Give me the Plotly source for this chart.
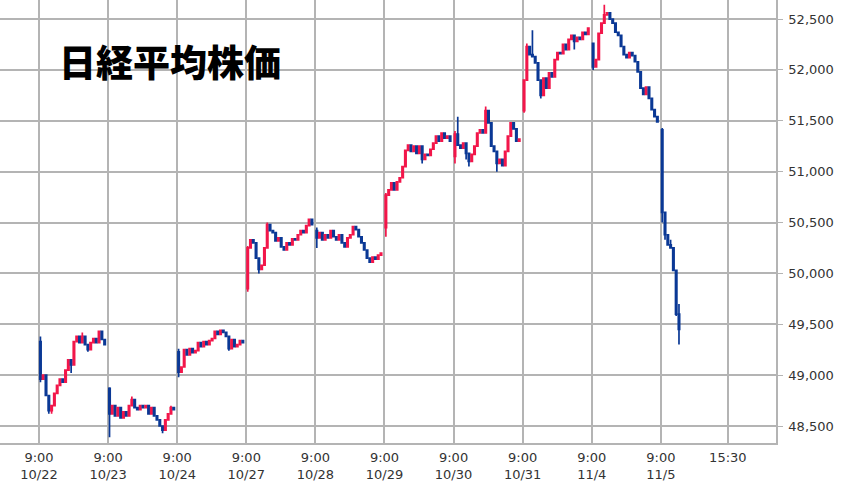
import plotly.graph_objects as go

# ---- data (approximate intraday bars) ----
days = ["10/22", "10/23", "10/24", "10/27", "10/28", "10/29", "10/30", "10/31", "11/4", "11/5"]
day_open = [49330, 48870, 49230, 49850, 50420, 50450, 51150, 51600, 52260, 51410]

close_1022 = [48960, 49000, 48800, 48650, 48700, 48820, 48900, 48960, 48930, 49050, 49150, 49100,
              49330, 49380, 49320, 49380, 49300, 49250, 49320, 49360, 49320, 49430, 49350, 49300]
close_1023 = [48620, 48700, 48600, 48680, 48580, 48640, 48600, 48700, 48760, 48680, 48660, 48700,
              48680, 48700, 48620, 48680, 48600, 48560, 48500, 48460, 48560, 48620, 48680, 48660]
close_1024 = [49030, 49080, 49250, 49200, 49260, 49220, 49240, 49320, 49280, 49330, 49300, 49340,
              49360, 49430, 49400, 49440, 49420, 49380, 49260, 49350, 49280, 49300, 49340, 49320]
close_1027 = [50250, 50330, 50300, 50150, 50040, 50080, 50250, 50480, 50420, 50400, 50320, 50350,
              50260, 50230, 50300, 50280, 50340, 50330, 50380, 50420, 50400, 50470, 50530, 50480]
close_1028 = [50350, 50400, 50330, 50380, 50350, 50420, 50360, 50330, 50380, 50300, 50260, 50350,
              50380, 50460, 50430, 50360, 50300, 50230, 50150, 50110, 50160, 50140, 50180, 50200]
close_1029 = [50770, 50820, 50890, 50820, 50900, 50940, 51050, 51210, 51260, 51200, 51250, 51180,
              51250, 51120, 51170, 51160, 51220, 51280, 51350, 51300, 51380, 51330, 51350, 51300]
close_1030 = [51370, 51260, 51230, 51280, 51180, 51100, 51170, 51250, 51380, 51410, 51380, 51600,
              51480, 51250, 51200, 51080, 51120, 51060, 51200, 51350, 51480, 51420, 51300, 51320]
close_1031 = [51900, 52230, 52150, 52130, 52070, 51900, 51750, 51920, 51820, 51970, 51930, 52100,
              52170, 52160, 52250, 52200, 52300, 52340, 52280, 52320, 52300, 52370, 52350, 52410]
close_1104 = [52030, 52100, 52360, 52460, 52540, 52560, 52500, 52460, 52370, 52340, 52230, 52150,
              52120, 52170, 52140, 52080, 51980, 51820, 51760, 51830, 51720, 51610, 51540, 51490]
close_1105 = [50600, 50380, 50280, 50250, 50030, 49600, 49450]

# notable wicks: (day index, bar index) -> price
high_wicks = {(0, 0): 49380, (0, 15): 49420, (1, 0): 48880, (1, 8): 48790, (1, 22): 48700,
              (2, 0): 49260, (3, 0): 50270, (3, 7): 50500, (4, 0): 50450, (5, 0): 50790,
              (6, 0): 51400, (6, 1): 51540, (6, 11): 51640, (7, 1): 52260, (7, 3): 52390,
              (8, 4): 52640, (9, 0): 51430, (9, 1): 50600, (9, 3): 50330, (9, 6): 49700}
low_wicks = {(0, 0): 48930, (0, 3): 48620, (0, 4): 48620, (0, 11): 49020, (0, 17): 49230,
             (1, 0): 48390, (1, 19): 48430, (2, 0): 48980, (2, 18): 49240, (3, 0): 49820,
             (3, 4): 50000, (4, 0): 50250, (5, 0): 50360, (5, 13): 51080, (6, 0): 51080,
             (6, 4): 51120, (6, 5): 51050, (6, 15): 51000, (7, 0): 51580, (7, 6): 51720,
             (7, 18): 52200, (8, 0): 52000, (9, 0): 50500, (9, 1): 50330, (9, 5): 49580,
             (9, 6): 49300}

closes = [close_1022, close_1023, close_1024, close_1027, close_1028,
          close_1029, close_1030, close_1031, close_1104, close_1105]

yticks = [48500, 49000, 49500, 50000, 50500, 51000, 51500, 52000, 52500]
xtick_labels = ["9:00<br>" + d for d in days] + ["15:30"]
title_text = "日経平均株価"

# ---- build OHLC ----
BARS_PER_DAY = 24
SESSION = 0.97  # fraction of the day slot covered by 9:00-15:30
step = SESSION / BARS_PER_DAY
xs, o, h, l, c = [], [], [], [], []
for d, cl in enumerate(closes):
    prev = day_open[d]
    for i, v in enumerate(cl):
        xs.append(d + (i + 0.5) * step)
        o.append(prev)
        c.append(v)
        h.append(high_wicks.get((d, i), max(prev, v)))
        l.append(low_wicks.get((d, i), min(prev, v)))
        prev = v

RED = "#f2164a"
BLUE = "#0a3895"

fig = go.Figure(go.Candlestick(
    x=xs, open=o, high=h, low=l, close=c,
    increasing=dict(line=dict(color=RED, width=1.7), fillcolor=RED),
    decreasing=dict(line=dict(color=BLUE, width=1.7), fillcolor=BLUE),
    whiskerwidth=0, hoverinfo="skip", showlegend=False,
))

xtickvals = list(range(len(days))) + [len(days) - 1 + SESSION]

fig.update_layout(
    width=852, height=481,
    margin=dict(l=0, r=76, t=0, b=38),
    paper_bgcolor="white", plot_bgcolor="white",
    font=dict(family="DejaVu Sans", size=13, color="#333333"),
    xaxis=dict(
        range=[-0.565, 10.667], tickvals=xtickvals, ticktext=xtick_labels,
        showgrid=True, gridcolor="#b4b4b4", gridwidth=1.5,
        rangeslider=dict(visible=False), zeroline=False,
        showline=True, linecolor="#b4b4b4", linewidth=1.5,
        ticks="", tickfont=dict(size=13, color="#333333"),
        ticklabelstandoff=2, automargin=False,
    ),
    yaxis=dict(
        side="right", range=[48333, 52687], tickvals=yticks,
        tickformat=",", showgrid=True, gridcolor="#b4b4b4", gridwidth=1.5,
        zeroline=False, showline=True, linecolor="#b4b4b4", linewidth=1.5,
        ticks="outside", ticklen=5, tickcolor="#b4b4b4",
        tickfont=dict(size=13, color="#333333"), ticklabelstandoff=3,
        automargin=False,
    ),
    annotations=[dict(
        text=title_text, xref="paper", yref="paper",
        x=0.074, y=0.862, xanchor="left", yanchor="middle", showarrow=False,
        font=dict(family="Noto Sans CJK JP", size=37, color="black", weight=900),
    )],
)

fig.write_html("out.html", config={"displayModeBar": False},
               post_script="document.body.style.margin='0';document.body.style.overflow='hidden';")
